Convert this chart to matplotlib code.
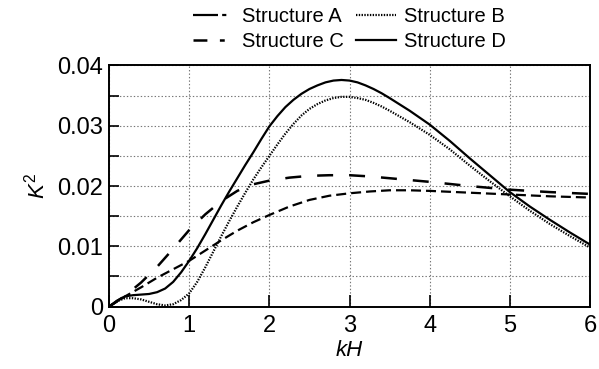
import matplotlib
matplotlib.use("Agg")
import matplotlib.pyplot as plt
from matplotlib.lines import Line2D

plt.rcParams['font.family'] = ['Liberation Sans', 'DejaVu Sans']
plt.rcParams['mathtext.fontset'] = 'custom'
plt.rcParams['mathtext.rm'] = 'Liberation Sans'
plt.rcParams['mathtext.it'] = 'Liberation Sans:italic'
plt.rcParams['lines.scale_dashes'] = False

# values
kh_a = [0, 0.2, 0.4, 0.6, 0.8, 1.0, 1.2, 1.4, 1.6, 1.8, 2.0, 2.25, 2.5, 2.75,
        3.0, 3.25, 3.5, 3.75, 4.0, 4.5, 5.0, 5.5, 6.0]
k2_a = [0, 0.0017, 0.0032, 0.0048, 0.0062, 0.0076, 0.0093, 0.0110, 0.0126,
        0.0140, 0.0152, 0.0166, 0.0177, 0.0184, 0.0188, 0.0191, 0.0193,
        0.0193, 0.0192, 0.0189, 0.0186, 0.0183, 0.0181]

kh_b = [0, 0.1, 0.2, 0.3, 0.4, 0.5, 0.6, 0.7, 0.8, 0.9, 1.0, 1.1, 1.2, 1.3,
        1.4, 1.5, 1.6, 1.7, 1.8, 1.9, 2.0, 2.1, 2.2, 2.3, 2.4, 2.5, 2.6, 2.7,
        2.8, 2.9, 3.0, 3.1, 3.2, 3.3, 3.4, 3.5, 3.75, 4.0, 4.25, 4.5, 4.75,
        5.0, 5.25, 5.5, 5.75, 6.0]
k2_b = [0, 0.0009, 0.0014, 0.0014, 0.0012, 0.0008, 0.0004, 0.0002, 0.0004,
        0.0011, 0.0022, 0.0041, 0.0065, 0.0091, 0.0117, 0.0142, 0.0166,
        0.0189, 0.0211, 0.0231, 0.0250, 0.0269, 0.0287, 0.0303, 0.0317,
        0.0328, 0.0336, 0.0342, 0.0346, 0.0348, 0.0348, 0.0346, 0.0343,
        0.0338, 0.0332, 0.0325, 0.0306, 0.0285, 0.0261, 0.0234, 0.0208,
        0.0183, 0.0159, 0.0137, 0.0117, 0.0098]

kh_c = [0, 0.2, 0.4, 0.6, 0.8, 1.0, 1.2, 1.4, 1.6, 1.7, 1.8, 1.9, 2.0, 2.25,
        2.5, 2.75, 3.0, 3.25, 3.5, 3.75, 4.0, 4.5, 5.0, 5.5, 6.0]
k2_c = [0, 0.0018, 0.0040, 0.0066, 0.0096, 0.0127, 0.0153, 0.0175, 0.0192,
        0.0198, 0.0203, 0.0206, 0.0209, 0.0214, 0.0217, 0.0218, 0.0218,
        0.0216, 0.0213, 0.0210, 0.0207, 0.0200, 0.0194, 0.0190, 0.0187]

kh_d = [0, 0.1, 0.2, 0.3, 0.4, 0.5, 0.6, 0.7, 0.8, 0.9, 1.0, 1.1, 1.2, 1.3,
        1.4, 1.5, 1.6, 1.7, 1.8, 1.9, 2.0, 2.1, 2.2, 2.3, 2.4, 2.5, 2.6, 2.7,
        2.8, 2.9, 3.0, 3.1, 3.2, 3.3, 3.4, 3.5, 3.75, 4.0, 4.25, 4.5, 4.75,
        5.0, 5.25, 5.5, 5.75, 6.0]
k2_d = [0, 0.0010, 0.0017, 0.0019, 0.0020, 0.0021, 0.0024, 0.0030, 0.0041,
        0.0057, 0.0076, 0.0097, 0.0120, 0.0144, 0.0168, 0.0191, 0.0213,
        0.0235, 0.0256, 0.0278, 0.0299, 0.0316, 0.0331, 0.0343, 0.0353,
        0.0361, 0.0367, 0.0372, 0.0375, 0.0376, 0.0375, 0.0372, 0.0367,
        0.0361, 0.0354, 0.0346, 0.0325, 0.0302, 0.0275, 0.0246, 0.0218,
        0.0190, 0.0166, 0.0144, 0.0123, 0.0103]

labels = ['Structure A', 'Structure B', 'Structure C', 'Structure D']
x_ticks = [0, 1, 2, 3, 4, 5, 6]
y_ticks = [0, 0.01, 0.02, 0.03, 0.04]
y_tick_labels = ['0', '0.01', '0.02', '0.03', '0.04']

fig = plt.figure(figsize=(5.99, 3.69), dpi=100)
ax = fig.add_axes([0.182, 0.169, 0.803, 0.6535])

line_kw = dict(color='black', solid_joinstyle='round', dash_joinstyle='round')
ax.plot(kh_a, k2_a, lw=1.6, linestyle=(0, (7.2, 3.6)), **line_kw)
ax.plot(kh_b, k2_b, lw=1.6, linestyle=(0, (1.0, 1.0)), **line_kw)
ax.plot(kh_c, k2_c, lw=1.8, linestyle=(0, (11.5, 11.5)), **line_kw)
ax.plot(kh_d, k2_d, lw=1.6, linestyle='-', **line_kw)

ax.set_xlim(0, 6)
ax.set_ylim(0, 0.04)
ax.set_xticks(x_ticks)
ax.set_xticklabels([str(t) for t in x_ticks])
ax.set_yticks(y_ticks)
ax.set_yticklabels(y_tick_labels)
ax.set_yticks([0.005, 0.015, 0.025, 0.035], minor=True)

ax.grid(True, which='major', color='#777777', linestyle=(0, (1, 1.5)), lw=0.8)
ax.grid(True, which='minor', axis='y', color='#777777', linestyle=(0, (1, 1.5)), lw=0.8)

ax.tick_params(axis='both', which='both', direction='in', labelsize=17,
               width=1.2, color='black')
ax.tick_params(axis='x', which='major', length=8.5, pad=6)
ax.tick_params(axis='y', which='both', length=7, pad=4)

for s in ax.spines.values():
    s.set_linewidth(1.4)

ax.set_xlabel('kH', fontsize=16, fontstyle='italic', labelpad=2)
ax.set_ylabel(r'$\mathit{K}^2$', fontsize=16, labelpad=6)

# legend samples look different from the plotted dash patterns
h_a = Line2D([], [], color='black', lw=1.6, linestyle=(0, (18, 3, 3, 30)))
h_b = Line2D([], [], color='black', lw=1.6, linestyle=(0, (1.0, 1.0)))
h_c = Line2D([], [], color='black', lw=1.8, linestyle=(0, (10, 9, 3.5, 30)))
h_d = Line2D([], [], color='black', lw=1.6, linestyle='-')
# legend fills column by column, so order gives rows A B / C D
ax.legend([h_a, h_c, h_b, h_d], [labels[0], labels[2], labels[1], labels[3]],
          ncol=2, loc='lower center', bbox_to_anchor=(0.5, 1.0),
          frameon=False, fontsize=14.5, handlelength=2.0, handletextpad=0.4,
          columnspacing=0.6, labelspacing=0.3, borderaxespad=0.3)

fig.savefig('out.png', dpi=100)
